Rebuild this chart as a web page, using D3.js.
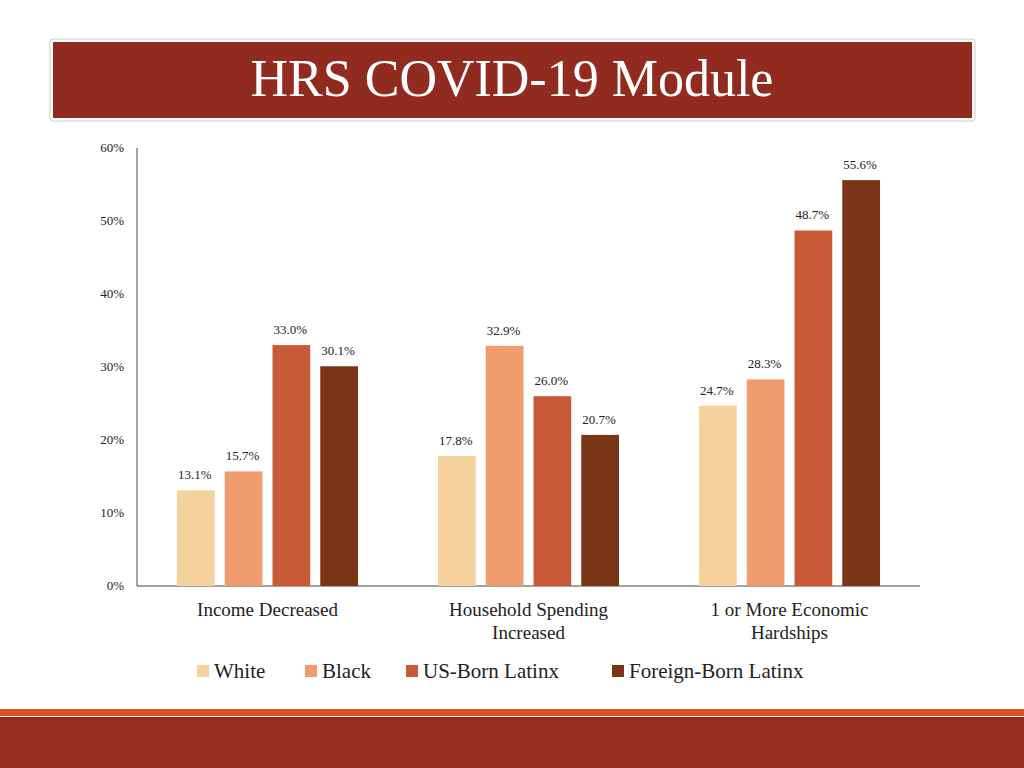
<!DOCTYPE html>
<html><head><meta charset="utf-8">
<script src="https://cdn.jsdelivr.net/npm/d3@7"></script>
<style>body{margin:0;background:#fff}svg{display:block}text{font-family:"Liberation Serif","DejaVu Serif",serif}</style>
</head><body>
<script>
var categories = [["Income Decreased"], ["Household Spending", "Increased"], ["1 or More Economic", "Hardships"]];
var seriesNames = ["White", "Black", "US-Born Latinx", "Foreign-Born Latinx"];
var colors = ["#f5d19d", "#f09c6f", "#c95a38", "#7a3516"];
var white = [13.1, 17.8, 24.7];
var black = [15.7, 32.9, 28.3];
var usBorn = [33.0, 26.0, 48.7];
var foreignBorn = [30.1, 20.7, 55.6];
var yTicks = [0, 10, 20, 30, 40, 50, 60];

var series = [white, black, usBorn, foreignBorn];
var svg = d3.select("body").append("svg").attr("width", 1024).attr("height", 768);

// title banner
svg.append("rect").attr("x", 50).attr("y", 39).attr("width", 925).attr("height", 82)
    .attr("fill", "#fff").attr("stroke", "#ccc").attr("rx", 3);
svg.append("rect").attr("x", 53).attr("y", 42).attr("width", 919).attr("height", 76).attr("fill", "#922b1f");
svg.append("text").attr("x", 512).attr("y", 96).attr("text-anchor", "middle")
    .attr("fill", "#fff").attr("font-size", 52).text("HRS COVID-19 Module");

// bottom bars
svg.append("rect").attr("x", 0).attr("y", 709).attr("width", 1024).attr("height", 7).attr("fill", "#d9541f");
svg.append("rect").attr("x", 0).attr("y", 717).attr("width", 1024).attr("height", 51).attr("fill", "#9a2b20");

var x0 = d3.scaleBand().domain(d3.range(categories.length)).range([137, 920]);
var x1 = d3.scaleBand().domain(d3.range(series.length)).range([40, 221]).paddingInner(0.21);
var y = d3.scaleLinear().domain([0, 60]).range([586, 148]);

svg.append("line").attr("x1", 137).attr("x2", 137).attr("y1", 148).attr("y2", 586).attr("stroke", "#444");
svg.append("line").attr("x1", 137).attr("x2", 920).attr("y1", 586).attr("y2", 586).attr("stroke", "#444");

svg.selectAll(".ytick").data(yTicks).enter().append("text")
    .attr("x", 124).attr("y", function(d) { return y(d) + 4; })
    .attr("text-anchor", "end").attr("font-size", 13).attr("fill", "#222")
    .text(function(d) { return d + "%"; });

series.forEach(function(vals, s) {
    var g = svg.append("g");
    g.selectAll("rect").data(vals).enter().append("rect")
        .attr("x", function(d, i) { return x0(i) + x1(s); })
        .attr("y", function(d) { return y(d); })
        .attr("width", x1.bandwidth())
        .attr("height", function(d) { return y(0) - y(d); })
        .attr("fill", colors[s]);
    g.selectAll("text").data(vals).enter().append("text")
        .attr("x", function(d, i) { return x0(i) + x1(s) + x1.bandwidth() / 2 - 1; })
        .attr("y", function(d) { return y(d) - 11; })
        .attr("text-anchor", "middle").attr("font-size", 13).attr("fill", "#222")
        .text(function(d) { return d.toFixed(1) + "%"; });
});

categories.forEach(function(lines, i) {
    lines.forEach(function(l, k) {
        svg.append("text").attr("x", x0(i) + x0.bandwidth() / 2).attr("y", 616 + k * 23)
            .attr("text-anchor", "middle").attr("font-size", 19).attr("fill", "#222").text(l);
    });
});

var legendX = [197, 305, 406, 612];
seriesNames.forEach(function(n, s) {
    svg.append("rect").attr("x", legendX[s]).attr("y", 665).attr("width", 12).attr("height", 12).attr("fill", colors[s]);
    svg.append("text").attr("x", legendX[s] + 17).attr("y", 678).attr("font-size", 21).attr("fill", "#222").text(n);
});
</script>
</body></html>
